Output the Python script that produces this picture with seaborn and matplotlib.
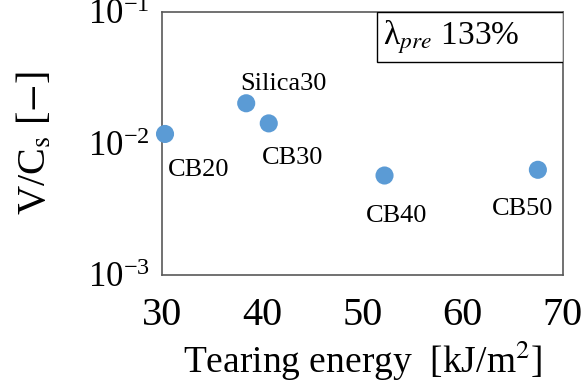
import numpy as np
import pandas as pd
import matplotlib
matplotlib.use("Agg")
import matplotlib.pyplot as plt
import seaborn as sns
from matplotlib.patches import Rectangle
from matplotlib.ticker import LogLocator, NullLocator

# data
samples = ["CB20", "Silica30", "CB30", "CB40", "CB50"]
tearing_energy = [30.3, 38.4, 40.65, 52.2, 67.5]
v_over_cs = [0.0118, 0.0202, 0.0142, 0.0057, 0.0063]

# where each name sits relative to its dot (points)
label_offsets = {"CB20": (24, -26), "Silica30": (27, 14), "CB30": (17, -25),
                 "CB40": (9, -29), "CB50": (-11, -28)}

df = pd.DataFrame({"sample": samples, "energy": tearing_energy, "ratio": v_over_cs})

sns.set_style("white")
plt.rcParams["font.family"] = ["Liberation Serif", "DejaVu Serif"]
plt.rcParams["mathtext.fontset"] = "stix"
plt.rcParams["text.color"] = "black"
plt.rcParams["axes.labelcolor"] = "black"
plt.rcParams["xtick.labelcolor"] = "black"
plt.rcParams["ytick.labelcolor"] = "black"

fig, ax = plt.subplots(figsize=(5.87, 3.85), dpi=100)
sns.scatterplot(data=df, x="energy", y="ratio", color="#5B9BD5", s=170,
                edgecolor="none", ax=ax, zorder=3, clip_on=False)

ax.set_yscale("log")
ax.set_xlim(30, 70)
ax.set_ylim(1e-3, 1e-1)
ax.set_xticks([30, 40, 50, 60, 70])
ax.yaxis.set_major_locator(LogLocator(base=10, numticks=5))
ax.yaxis.set_minor_locator(NullLocator())
ax.tick_params(axis="both", direction="in", length=5, color="#595959")
ax.tick_params(axis="x", labelsize=29, pad=16)
ax.tick_params(axis="y", labelsize=25, pad=9)
for sp in ax.spines.values():
    sp.set_color("#595959")
    sp.set_linewidth(1.2)

for name, x, y in zip(samples, tearing_energy, v_over_cs):
    ax.annotate(name, (x, y), xytext=label_offsets[name], textcoords="offset points",
                fontsize=19, ha="center", va="center")

# box in the top right corner
ax.add_patch(Rectangle((0.536, 0.81), 0.464, 0.19, transform=ax.transAxes,
                       facecolor="white", edgecolor="black", linewidth=1, zorder=4))
ax.text(0.552, 0.905, "λ$_{pre}$ 133%", transform=ax.transAxes, fontsize=24,
        ha="left", va="center", zorder=5)

ax.set_xlabel(r"Tearing energy  [kJ/m$^2$]", fontsize=27, labelpad=3)
ax.set_ylabel(r"V/C$_\mathrm{s}$ [$-$]", fontsize=29, labelpad=24)

plt.subplots_adjust(left=0.276, right=0.959, top=0.969, bottom=0.286)
fig.savefig("out.png", dpi=100)
